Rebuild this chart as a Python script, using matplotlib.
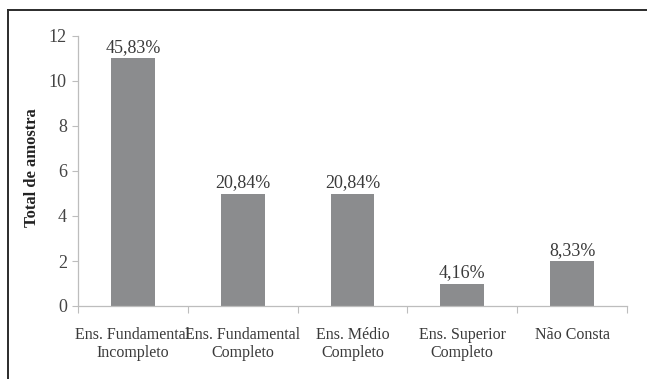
import matplotlib
matplotlib.use("Agg")
import matplotlib.pyplot as plt
from matplotlib.lines import Line2D

categories = [
    "Ens. Fundamental\nIncompleto",
    "Ens. Fundamental\nCompleto",
    "Ens. Médio\nCompleto",
    "Ens. Superior\nCompleto",
    "Não Consta",
]
counts = [11, 5, 5, 1, 2]
percent_labels = ["45,83%", "20,84%", "20,84%", "4,16%", "8,33%"]

plt.rcParams["font.family"] = ["Liberation Serif", "DejaVu Serif"]

W, H = 647, 379
fig = plt.figure(figsize=(W / 100, H / 100), dpi=100)
ax = fig.add_axes([78 / W, 1 - 306 / H, (627 - 78) / W, (306 - 36) / H])

x = list(range(len(categories)))
bars = ax.bar(x, counts, width=0.4, color="#8b8c8e", zorder=2)
for rect, txt in zip(bars, percent_labels):
    ax.annotate(txt, (rect.get_x() + rect.get_width() / 2, rect.get_height()),
                xytext=(0, 2), textcoords="offset pixels",
                ha="center", va="bottom", fontsize=13, color="#3a3a3a")

ax.set_xlim(-0.5, len(categories) - 0.5)
ax.set_ylim(0, 12)
ax.set_yticks(range(0, 13, 2))
ax.tick_params(axis="y", labelsize=13, labelcolor="#444444", color="#bdbdbd",
               length=4, width=0.8, pad=4)

# category ticks sit between bars, labels are placed at the bar centres
ax.set_xticks([i - 0.5 for i in range(len(categories) + 1)])
ax.set_xticklabels([])
ax.tick_params(axis="x", color="#bdbdbd", length=5, width=0.8)
for i, lab in enumerate(categories):
    ax.annotate(lab, (i, 0), xytext=(0, -21), textcoords="offset pixels",
                ha="center", va="top", fontsize=11.5, color="#3a3a3a",
                linespacing=1.2)

for side in ("top", "right"):
    ax.spines[side].set_visible(False)
for side in ("left", "bottom"):
    ax.spines[side].set_color("#bdbdbd")
    ax.spines[side].set_linewidth(0.9)

fig.text(32 / W, 1 - 168 / H, "Total de amostra", rotation=90, ha="center",
         va="center", fontsize=12, fontweight="bold", color="#222222")

# outer frame (only top and left edges fall inside the canvas)
fx, fy = 8 / W, 1 - 10 / H
fig.add_artist(Line2D([fx, 1.0], [fy, fy], transform=fig.transFigure,
                      color="#2b2b2b", lw=1.4))
fig.add_artist(Line2D([fx, fx], [0.0, fy], transform=fig.transFigure,
                      color="#2b2b2b", lw=1.4))

fig.savefig("out.png", dpi=100)
